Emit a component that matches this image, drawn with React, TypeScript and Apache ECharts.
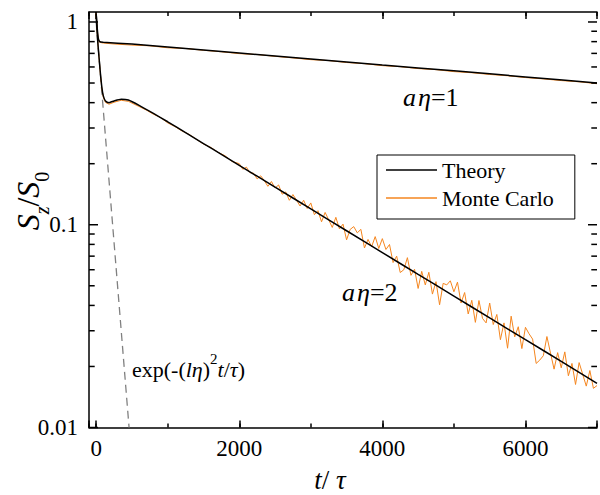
import React, { useEffect, useRef } from 'react';
import * as echarts from 'echarts';

// ---- data ----
const xMin = -100;
const xMax = 7000;
const yMin = 0.01;
const yMax = 1.12;

const xTickLabels = ['0', '2000', '4000', '6000'];
const yTickLabels = ['0.01', '0.1', '1'];
const yMinorTicks = [0.02, 0.03, 0.04, 0.05, 0.06, 0.07, 0.08, 0.09, 0.2, 0.3, 0.4, 0.5, 0.6, 0.7, 0.8, 0.9];

// Theory, a*eta = 1
const theory1: [number, number][] = [
  [0, 1.1], [15, 0.93], [30, 0.83], [50, 0.8], [100, 0.795], [500, 0.778], [1000, 0.752],
  [2000, 0.703], [3000, 0.657], [4000, 0.614], [5000, 0.574], [6000, 0.536], [7000, 0.5],
];

// Monte Carlo, a*eta = 1
const mc1: [number, number][] = [
  [0, 1.1], [15, 0.92], [30, 0.82], [50, 0.793], [100, 0.787], [250, 0.779], [500, 0.769],
  [750, 0.763], [1000, 0.746], [1250, 0.74], [1500, 0.725], [1750, 0.713], [2000, 0.698],
  [2250, 0.691], [2500, 0.677], [2750, 0.665], [3000, 0.652], [3250, 0.645], [3500, 0.631],
  [3750, 0.623], [4000, 0.609], [4250, 0.602], [4500, 0.589], [4750, 0.582], [5000, 0.569],
  [5250, 0.562], [5500, 0.551], [5750, 0.543], [6000, 0.532], [6250, 0.524], [6500, 0.514],
  [6750, 0.507], [7000, 0.496],
];

// Theory, a*eta = 2
const theory2: [number, number][] = [
  [0, 1.1], [20, 0.82], [40, 0.67], [60, 0.555], [80, 0.475], [100, 0.432], [130, 0.408],
  [180, 0.4], [250, 0.408], [350, 0.416], [450, 0.412], [600, 0.388], [800, 0.354],
  [1000, 0.322], [1250, 0.2846], [1500, 0.2515], [1750, 0.2222], [2000, 0.1963],
  [2500, 0.1533], [3000, 0.1197], [3500, 0.0934], [4000, 0.0729], [4500, 0.0569],
  [5000, 0.0445], [5500, 0.0347], [6000, 0.0271], [6500, 0.0212], [7000, 0.0165],
];

// Monte Carlo, a*eta = 2
const mc2: [number, number][] = [
  [0, 1.1], [20, 0.82], [40, 0.668], [60, 0.548], [80, 0.468], [100, 0.425], [130, 0.401],
  [180, 0.393], [250, 0.402], [350, 0.411], [450, 0.406], [600, 0.383], [700, 0.368],
  [800, 0.351], [900, 0.338], [1000, 0.318], [1100, 0.305], [1200, 0.29], [1300, 0.279],
  [1400, 0.264], [1500, 0.25], [1600, 0.241], [1700, 0.228], [1800, 0.219], [1900, 0.205],
  [2000, 0.2002], [2050, 0.1877], [2100, 0.1924], [2150, 0.1805], [2200, 0.1796],
  [2250, 0.1683], [2300, 0.1743], [2350, 0.1651], [2400, 0.1547], [2450, 0.1634],
  [2500, 0.1518], [2550, 0.1571], [2600, 0.1415], [2650, 0.1451], [2700, 0.132],
  [2750, 0.1409], [2800, 0.1322], [2850, 0.1237], [2900, 0.1321], [2950, 0.1202],
  [3000, 0.1281], [3050, 0.1121], [3100, 0.1173], [3150, 0.1034], [3200, 0.115],
  [3250, 0.1058], [3300, 0.097], [3350, 0.1088], [3400, 0.0954], [3450, 0.1007],
  [3500, 0.0842], [3550, 0.0948], [3600, 0.0979], [3650, 0.0912], [3700, 0.0949],
  [3750, 0.0768], [3800, 0.0846], [3850, 0.0779], [3900, 0.0874], [3950, 0.0764],
  [4000, 0.0854], [4050, 0.0755], [4100, 0.0799], [4150, 0.0651], [4200, 0.07],
  [4250, 0.0581], [4300, 0.06], [4350, 0.0688], [4400, 0.0563], [4450, 0.0603],
  [4500, 0.0485], [4550, 0.0589], [4600, 0.0505], [4650, 0.0583], [4700, 0.0455],
  [4750, 0.0524], [4800, 0.0403], [4850, 0.0514], [4900, 0.0505], [4950, 0.0529],
  [5000, 0.0467], [5050, 0.0521], [5100, 0.0411], [5150, 0.0463], [5200, 0.0363],
  [5250, 0.0424], [5300, 0.033], [5350, 0.0423], [5400, 0.0345], [5450, 0.0328],
  [5500, 0.0411], [5550, 0.0322], [5600, 0.0361], [5650, 0.0271], [5700, 0.0328],
  [5750, 0.0246], [5800, 0.0354], [5850, 0.028], [5900, 0.0314], [5950, 0.0245],
  [6000, 0.0312], [6050, 0.029], [6100, 0.0273], [6150, 0.0207], [6200, 0.0215],
  [6250, 0.0226], [6300, 0.0281], [6350, 0.0233], [6400, 0.0194], [6450, 0.0234],
  [6500, 0.0197], [6550, 0.0236], [6600, 0.018], [6650, 0.0207], [6700, 0.0163],
  [6750, 0.0209], [6800, 0.0183], [6850, 0.016], [6900, 0.0191], [6950, 0.0156],
  [7000, 0.0161],
];

// short-time limit exp(-(l eta)^2 t / tau)
const shortTime: [number, number][] = [[0, 1], [460, 0.01]];

const FONT = 'Liberation Serif';
const ORANGE = '#f5861f';

export default function App() {
  const ref = useRef<HTMLDivElement>(null);
  useEffect(() => {
    if (!ref.current) return;
    const chart = echarts.init(ref.current, null, { renderer: 'svg' });

    const tickData = [
      ...yTickLabels.map((s) => [xMin, parseFloat(s), 1]),
      ...yMinorTicks.map((v) => [xMin, v, 0]),
    ];

    const xLabelFmt = (v: number) => (xTickLabels.includes(String(v)) ? String(v) : '');
    const yLabelFmt = (v: number) => {
      const hit = yTickLabels.find((s) => Math.abs(parseFloat(s) - v) / v < 1e-6);
      return hit ?? '';
    };

    const axisLineStyle = { color: '#000', width: 1.5 };
    const tickStyle = { color: '#000', width: 1.5 };

    const option: any = {
      animation: false,
      backgroundColor: '#fff',
      textStyle: { fontFamily: FONT },
      grid: { left: 89, top: 12, width: 511, height: 415.5, containLabel: false },
      legend: {
        data: [
          { name: 'Theory', icon: 'rect', itemStyle: { color: '#000' } },
          { name: 'Monte Carlo', icon: 'rect', itemStyle: { color: ORANGE } },
        ],
        orient: 'vertical',
        left: 377,
        top: 155,
        padding: [3, 21, 9, 9],
        itemGap: 4,
        itemWidth: 51,
        itemHeight: 1.5,
        borderColor: '#000',
        borderWidth: 1,
        textStyle: { fontFamily: FONT, fontSize: 22, color: '#000', lineHeight: 24 },
      },
      xAxis: [
        {
          type: 'value', position: 'bottom', min: xMin, max: xMax, splitNumber: 4,
          axisLine: { show: true, onZero: false, lineStyle: axisLineStyle },
          axisTick: { show: true, inside: true, length: 7, lineStyle: tickStyle },
          axisLabel: { show: true, formatter: xLabelFmt, fontFamily: FONT, fontSize: 23, color: '#000', margin: 9 },
          splitLine: { show: false },
        },
        {
          type: 'value', position: 'bottom', min: xMin, max: xMax, splitNumber: 7,
          axisLine: { show: false, onZero: false },
          axisTick: { show: true, inside: true, length: 4, lineStyle: tickStyle },
          axisLabel: { show: false },
          splitLine: { show: false },
        },
        {
          type: 'value', position: 'top', min: xMin, max: xMax, splitNumber: 4,
          axisLine: { show: true, onZero: false, lineStyle: axisLineStyle },
          axisTick: { show: true, inside: true, length: 7, lineStyle: tickStyle },
          axisLabel: { show: false },
          splitLine: { show: false },
        },
        {
          type: 'value', position: 'top', min: xMin, max: xMax, splitNumber: 7,
          axisLine: { show: false, onZero: false },
          axisTick: { show: true, inside: true, length: 4, lineStyle: tickStyle },
          axisLabel: { show: false },
          splitLine: { show: false },
        },
      ],
      yAxis: [
        {
          type: 'log', logBase: 10, min: yMin, max: yMax, splitNumber: 2,
          axisLine: { show: true, onZero: false, lineStyle: axisLineStyle },
          axisTick: { show: false },
          axisLabel: { show: true, formatter: yLabelFmt, fontFamily: FONT, fontSize: 23, color: '#000', margin: 11 },
          splitLine: { show: false },
        },
      ],
      series: [
        {
          name: 'Monte Carlo', type: 'line', data: mc1, symbol: 'none', z: 2,
          lineStyle: { color: ORANGE, width: 1 }, itemStyle: { color: ORANGE },
        },
        {
          name: 'Monte Carlo', type: 'line', data: mc2, symbol: 'none', z: 2,
          lineStyle: { color: ORANGE, width: 1 }, itemStyle: { color: ORANGE },
        },
        {
          name: 'Theory', type: 'line', data: theory1, symbol: 'none', z: 3, smooth: 0.2,
          lineStyle: { color: '#000', width: 1.5 }, itemStyle: { color: '#000' },
        },
        {
          name: 'Theory', type: 'line', data: theory2, symbol: 'none', z: 3, smooth: 0.2,
          lineStyle: { color: '#000', width: 1.5 }, itemStyle: { color: '#000' },
        },
        {
          name: 'short', type: 'line', data: shortTime, symbol: 'none', z: 1,
          lineStyle: { color: '#808080', width: 1.3, type: [8, 5] },
        },
        {
          name: 'yticks', type: 'custom', data: tickData, z: 5, silent: true,
          encode: { x: 0, y: 1 },
          renderItem: (params: any, api: any) => {
            const v = api.value(1);
            const len = api.value(2) === 1 ? 9 : 5.7;
            const l = api.coord([xMin, v]);
            const r = api.coord([xMax, v]);
            const st = { stroke: '#000', lineWidth: 1.5 };
            return {
              type: 'group',
              children: [
                { type: 'line', shape: { x1: l[0], y1: l[1], x2: l[0] + len, y2: l[1] }, style: st },
                { type: 'line', shape: { x1: r[0], y1: r[1], x2: r[0] - len, y2: r[1] }, style: st },
              ],
            };
          },
        },
      ],
      graphic: [
        {
          type: 'text', x: 28, y: 201, rotation: Math.PI / 2,
          style: {
            text: '{s|S}{z|z}{n|/}{s|S}{o|0}',
            align: 'center', verticalAlign: 'middle',
            rich: {
              s: { fontFamily: FONT, fontSize: 32, fontStyle: 'italic', fill: '#000', lineHeight: 32, verticalAlign: 'top' },
              n: { fontFamily: FONT, fontSize: 32, fill: '#000', lineHeight: 32, verticalAlign: 'top' },
              z: { fontFamily: FONT, fontSize: 20, fontStyle: 'italic', fill: '#000', lineHeight: 20, verticalAlign: 'top', padding: [20, 0, 0, 0] },
              o: { fontFamily: FONT, fontSize: 20, fill: '#000', lineHeight: 20, verticalAlign: 'top', padding: [20, 0, 0, 0] },
            },
          },
        },
        {
          type: 'text', x: 330, y: 480,
          style: {
            text: '{i|t}{n|/}{i| τ}',
            align: 'center', verticalAlign: 'middle',
            rich: {
              i: { fontFamily: FONT, fontSize: 27, fontStyle: 'italic', fill: '#000', lineHeight: 26 },
              n: { fontFamily: FONT, fontSize: 27, fill: '#000', lineHeight: 26 },
            },
          },
        },
        {
          type: 'text', x: 403, y: 97,
          style: {
            text: '{a|a}{e|η}{n|=1}',
            align: 'left', verticalAlign: 'middle',
            rich: {
              a: { fontFamily: FONT, fontSize: 26, fontStyle: 'italic', fill: '#000' },
              e: { fontFamily: FONT, fontSize: 26, fontStyle: 'italic', fill: '#000', padding: [0, 0, 0, 2] },
              n: { fontFamily: FONT, fontSize: 26, fill: '#000' },
            },
          },
        },
        {
          type: 'text', x: 342, y: 292,
          style: {
            text: '{a|a}{e|η}{n|=2}',
            align: 'left', verticalAlign: 'middle',
            rich: {
              a: { fontFamily: FONT, fontSize: 26, fontStyle: 'italic', fill: '#000' },
              e: { fontFamily: FONT, fontSize: 26, fontStyle: 'italic', fill: '#000', padding: [0, 0, 0, 2] },
              n: { fontFamily: FONT, fontSize: 26, fill: '#000' },
            },
          },
        },
        {
          type: 'text', x: 132, y: 362,
          style: {
            text: '{n|exp(-(}{i|l}{i|η}{n|)}{p|2}{i|t}{n|/}{i|τ}{n|)}',
            align: 'left', verticalAlign: 'middle',
            rich: {
              n: { fontFamily: FONT, fontSize: 22, fill: '#000', lineHeight: 22, verticalAlign: 'top', padding: [7, 0, 0, 0] },
              i: { fontFamily: FONT, fontSize: 22, fontStyle: 'italic', fill: '#000', lineHeight: 22, verticalAlign: 'top', padding: [7, 0, 0, 0] },
              p: { fontFamily: FONT, fontSize: 15, fill: '#000', lineHeight: 15, verticalAlign: 'top', padding: [0, 0, 0, 0] },
            },
          },
        },
      ],
    };

    chart.setOption(option);
    return () => chart.dispose();
  }, []);

  return (
    <div
      ref={ref}
      style={{ position: 'absolute', left: 0, top: 0, width: 600, height: 495, background: '#fff' }}
    />
  );
}
